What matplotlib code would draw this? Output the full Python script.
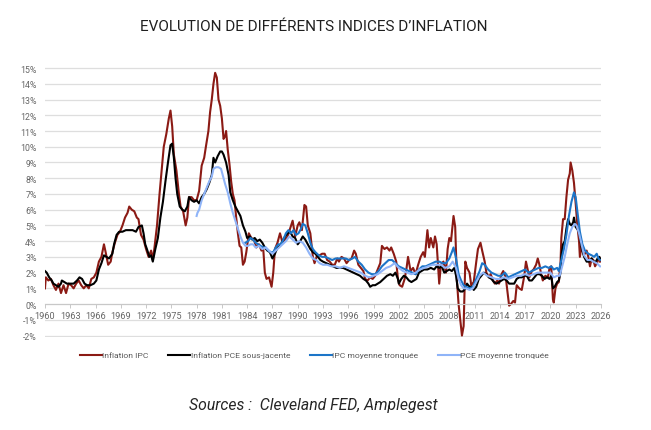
import matplotlib
matplotlib.use("Agg")
import matplotlib.pyplot as plt

# Evolution de differents indices d'inflation (glissement annuel, %)

plt.rcParams['font.family'] = ['Roboto', 'DejaVu Sans']

# Inflation IPC
ipc_annees = [1960.0, 1960.1, 1960.4, 1960.7, 1961.0, 1961.3, 1961.6, 1961.9, 1962.2, 1962.5, 1962.8,
              1963.1, 1963.4, 1963.7, 1964.0, 1964.3, 1964.6, 1964.9, 1965.2, 1965.5, 1965.8, 1966.1,
              1966.4, 1966.7, 1967.0, 1967.2, 1967.5, 1967.8, 1968.0, 1968.3, 1968.6, 1968.9, 1969.2,
              1969.5, 1969.8, 1970.0, 1970.3, 1970.6, 1970.9, 1971.1, 1971.4, 1971.7, 1972.0, 1972.3,
              1972.6, 1972.8, 1973.0, 1973.3, 1973.6, 1973.9, 1974.1, 1974.4, 1974.7, 1974.9, 1975.1,
              1975.3, 1975.6, 1975.9, 1976.1, 1976.4, 1976.7, 1976.9, 1977.1, 1977.4, 1977.7, 1978.0,
              1978.3, 1978.6, 1978.9, 1979.1, 1979.4, 1979.6, 1979.8, 1980.0, 1980.2, 1980.4, 1980.6,
              1980.8, 1981.0, 1981.2, 1981.4, 1981.5, 1981.7, 1981.9, 1982.1, 1982.3, 1982.5, 1982.7,
              1982.9, 1983.1, 1983.3, 1983.5, 1983.7, 1983.9, 1984.2, 1984.5, 1984.8, 1985.1, 1985.4,
              1985.7, 1985.9, 1986.1, 1986.3, 1986.6, 1986.9, 1987.1, 1987.3, 1987.6, 1987.9, 1988.2,
              1988.5, 1988.8, 1989.1, 1989.4, 1989.7, 1990.0, 1990.2, 1990.5, 1990.8, 1991.0, 1991.2,
              1991.5, 1991.8, 1992.0, 1992.3, 1992.6, 1992.9, 1993.2, 1993.5, 1993.8, 1994.1, 1994.4,
              1994.7, 1994.9, 1995.2, 1995.5, 1995.8, 1996.1, 1996.4, 1996.7, 1996.9, 1997.2, 1997.5,
              1997.8, 1998.0, 1998.3, 1998.6, 1998.9, 1999.2, 1999.5, 1999.8, 2000.0, 2000.3, 2000.6,
              2000.9, 2001.1, 2001.4, 2001.7, 2001.9, 2002.1, 2002.4, 2002.7, 2002.9, 2003.1, 2003.4,
              2003.7, 2004.0, 2004.3, 2004.6, 2004.9, 2005.1, 2005.4, 2005.6, 2005.8, 2006.1, 2006.3,
              2006.5, 2006.8, 2007.0, 2007.3, 2007.6, 2007.8, 2008.0, 2008.2, 2008.5, 2008.7, 2008.9,
              2009.1, 2009.3, 2009.5, 2009.7, 2009.9, 2010.1, 2010.4, 2010.6, 2010.9, 2011.2, 2011.4,
              2011.7, 2011.9, 2012.2, 2012.4, 2012.7, 2012.9, 2013.2, 2013.4, 2013.7, 2013.9, 2014.2,
              2014.4, 2014.7, 2014.9, 2015.1, 2015.3, 2015.6, 2015.8, 2016.0, 2016.3, 2016.6, 2016.9,
              2017.1, 2017.3, 2017.5, 2017.8, 2018.0, 2018.3, 2018.5, 2018.7, 2018.9, 2019.1, 2019.4,
              2019.7, 2019.9, 2020.1, 2020.3, 2020.4, 2020.6, 2020.8, 2021.0, 2021.2, 2021.3, 2021.5,
              2021.7, 2021.9, 2022.1, 2022.3, 2022.4, 2022.6, 2022.8, 2023.0, 2023.2, 2023.4, 2023.5,
              2023.7, 2023.9, 2024.1, 2024.3, 2024.5, 2024.7, 2024.9, 2025.1, 2025.3, 2025.6, 2025.8,
              2025.9]
ipc_valeurs = [1.0, 1.7, 1.5, 1.6, 1.2, 0.9, 1.3, 0.7, 1.2, 0.7, 1.3,
               1.2, 1.0, 1.3, 1.5, 1.2, 1.0, 1.2, 1.0, 1.6, 1.7, 2.0,
               2.7, 3.0, 3.8, 3.3, 2.5, 2.7, 3.3, 3.9, 4.4, 4.6, 5.0,
               5.5, 5.8, 6.2, 6.0, 5.9, 5.5, 5.4, 4.4, 4.1, 3.5, 3.0,
               3.4, 2.8, 3.6, 5.0, 7.0, 8.8, 10.0, 10.8, 11.8, 12.3, 11.3,
               9.5, 8.5, 7.0, 6.2, 5.9, 5.0, 5.5, 6.8, 6.8, 6.6, 6.6,
               7.2, 8.8, 9.3, 10.0, 11.0, 12.2, 13.0, 14.0, 14.7, 14.4, 13.0,
               12.6, 11.8, 10.5, 10.7, 11.0, 9.8, 8.9, 7.8, 7.0, 6.6, 5.5,
               4.5, 3.7, 3.6, 2.5, 2.7, 3.3, 4.5, 4.2, 4.1, 3.6, 3.8,
               3.4, 3.6, 2.0, 1.6, 1.7, 1.1, 2.0, 3.5, 3.9, 4.5, 3.9,
               4.1, 4.3, 4.8, 5.3, 4.3, 5.0, 5.2, 4.7, 6.3, 6.2, 5.0,
               4.5, 3.0, 2.6, 3.1, 3.1, 3.2, 3.2, 2.8, 2.7, 2.5, 2.5,
               2.9, 2.7, 3.0, 2.9, 2.6, 2.8, 2.9, 3.4, 3.2, 2.5, 2.3,
               2.1, 1.6, 1.5, 1.7, 1.6, 1.8, 2.2, 2.6, 3.7, 3.5, 3.6,
               3.4, 3.6, 3.2, 2.7, 1.6, 1.2, 1.1, 1.6, 2.2, 3.0, 2.1,
               2.3, 1.9, 2.5, 3.0, 3.3, 3.0, 4.7, 3.6, 4.2, 3.6, 4.3,
               3.8, 1.3, 2.5, 2.7, 2.0, 3.5, 4.2, 4.0, 5.6, 4.9, 1.5,
               0.0, -1.0, -2.0, -1.4, 2.7, 2.3, 2.0, 1.2, 1.4, 2.7, 3.5,
               3.9, 3.4, 2.7, 2.0, 1.7, 1.9, 1.5, 1.3, 1.5, 1.3, 1.9,
               2.1, 1.7, 0.8, -0.1, 0.0, 0.2, 0.1, 1.2, 1.0, 0.9, 1.8,
               2.7, 2.2, 1.7, 2.1, 2.2, 2.5, 2.9, 2.5, 1.9, 1.5, 1.8,
               1.7, 2.3, 2.4, 0.3, 0.1, 1.0, 1.3, 1.4, 2.6, 4.2, 5.4,
               5.4, 6.8, 7.9, 8.3, 9.0, 8.5, 7.7, 6.4, 5.0, 4.0, 3.0,
               3.7, 3.2, 3.2, 3.4, 3.0, 2.4, 2.9, 2.8, 2.4, 2.7, 3.0,
               2.7]

# Inflation PCE sous-jacente
pce_annees = [1960.0, 1960.2, 1960.5, 1960.8, 1961.0, 1961.3, 1961.6, 1961.9, 1962.0, 1962.3, 1962.6,
              1963.0, 1963.4, 1963.8, 1964.1, 1964.4, 1964.7, 1965.0, 1965.4, 1965.8, 1966.1, 1966.4,
              1966.7, 1967.0, 1967.3, 1967.6, 1968.0, 1968.2, 1968.5, 1968.8, 1969.2, 1969.6, 1970.0,
              1970.4, 1970.8, 1971.1, 1971.5, 1971.7, 1971.9, 1972.1, 1972.4, 1972.6, 1972.8, 1973.1,
              1973.4, 1973.7, 1974.0, 1974.3, 1974.6, 1974.9, 1975.1, 1975.3, 1975.5, 1975.7, 1976.0,
              1976.3, 1976.6, 1976.9, 1977.1, 1977.4, 1977.7, 1978.0, 1978.3, 1978.6, 1978.9, 1979.2,
              1979.5, 1979.8, 1980.0, 1980.2, 1980.5, 1980.8, 1981.0, 1981.2, 1981.5, 1981.8, 1982.0,
              1982.3, 1982.6, 1982.9, 1983.2, 1983.5, 1983.8, 1984.0, 1984.3, 1984.6, 1984.9, 1985.2,
              1985.5, 1985.8, 1986.1, 1986.4, 1986.7, 1987.0, 1987.3, 1987.6, 1987.9, 1988.2, 1988.5,
              1988.8, 1989.1, 1989.4, 1989.7, 1990.0, 1990.3, 1990.6, 1990.9, 1991.2, 1991.5, 1991.8,
              1992.1, 1992.4, 1992.7, 1993.0, 1993.4, 1993.8, 1994.2, 1994.6, 1995.0, 1995.4, 1995.8,
              1996.2, 1996.6, 1997.0, 1997.4, 1997.8, 1998.1, 1998.4, 1998.6, 1998.9, 1999.2, 1999.5,
              1999.8, 2000.2, 2000.6, 2001.0, 2001.3, 2001.6, 2001.9, 2002.0, 2002.3, 2002.6, 2002.9,
              2003.2, 2003.5, 2003.8, 2004.1, 2004.4, 2004.7, 2005.0, 2005.4, 2005.8, 2006.2, 2006.5,
              2006.8, 2007.1, 2007.4, 2007.7, 2008.0, 2008.3, 2008.6, 2008.8, 2009.0, 2009.3, 2009.6,
              2009.9, 2010.1, 2010.4, 2010.7, 2010.9, 2011.2, 2011.5, 2011.8, 2012.1, 2012.4, 2012.7,
              2013.0, 2013.3, 2013.6, 2013.9, 2014.2, 2014.5, 2014.8, 2015.1, 2015.4, 2015.7, 2016.0,
              2016.3, 2016.6, 2016.9, 2017.2, 2017.5, 2017.8, 2018.1, 2018.4, 2018.7, 2019.0, 2019.3,
              2019.6, 2019.9, 2020.1, 2020.3, 2020.5, 2020.8, 2021.0, 2021.2, 2021.3, 2021.5, 2021.7,
              2021.9, 2022.1, 2022.3, 2022.5, 2022.7, 2022.8, 2023.0, 2023.3, 2023.5, 2023.7, 2024.0,
              2024.3, 2024.6, 2024.9, 2025.1, 2025.4, 2025.6, 2025.8, 2025.9]
pce_valeurs = [2.1, 2.0, 1.7, 1.5, 1.3, 1.2, 1.1, 1.3, 1.5, 1.4, 1.3,
               1.3, 1.3, 1.5, 1.7, 1.6, 1.3, 1.2, 1.2, 1.3, 1.5, 2.2,
               2.6, 3.1, 3.0, 2.9, 3.2, 3.8, 4.4, 4.6, 4.6, 4.7, 4.7,
               4.7, 4.6, 4.9, 5.0, 4.5, 3.8, 3.5, 3.0, 3.1, 2.7, 3.5,
               4.2, 5.5, 6.5, 7.8, 9.0, 10.1, 10.2, 9.3, 8.0, 7.0, 6.2,
               6.0, 5.9, 6.2, 6.8, 6.6, 6.5, 6.6, 6.4, 6.8, 7.0, 7.3,
               7.7, 8.2, 9.3, 9.0, 9.4, 9.7, 9.7, 9.5, 9.0, 8.2, 7.1,
               6.6, 6.2, 5.9, 5.6, 5.0, 4.6, 4.2, 4.3, 4.1, 4.2, 4.0,
               4.1, 3.9, 3.6, 3.4, 3.3, 2.9, 3.2, 3.6, 3.7, 4.0, 4.3,
               4.5, 4.6, 4.3, 4.2, 3.8, 4.0, 4.3, 4.1, 3.8, 3.5, 3.3,
               3.2, 3.0, 2.8, 2.7, 2.6, 2.5, 2.4, 2.3, 2.3, 2.3, 2.2,
               2.1, 2.0, 1.9, 1.8, 1.6, 1.5, 1.3, 1.1, 1.2, 1.2, 1.3,
               1.4, 1.6, 1.8, 1.9, 1.8, 2.0, 1.6, 1.3, 1.6, 1.8, 1.7,
               1.5, 1.4, 1.5, 1.6, 2.0, 2.1, 2.2, 2.2, 2.3, 2.2, 2.4,
               2.3, 2.4, 2.0, 2.1, 2.2, 2.1, 2.3, 1.8, 1.0, 0.8, 0.8,
               1.0, 1.3, 1.1, 1.1, 0.9, 1.1, 1.6, 1.8, 2.0, 1.9, 1.7,
               1.6, 1.4, 1.3, 1.4, 1.5, 1.6, 1.5, 1.3, 1.3, 1.3, 1.6,
               1.7, 1.7, 1.8, 1.8, 1.5, 1.5, 1.7, 1.9, 1.9, 1.8, 1.6,
               1.7, 1.6, 1.8, 1.0, 1.1, 1.4, 1.5, 2.0, 3.1, 3.8, 4.0,
               4.8, 5.4, 5.1, 5.0, 5.2, 5.5, 4.9, 4.7, 4.3, 3.6, 3.0,
               2.7, 2.7, 2.9, 2.7, 2.7, 2.9, 3.0, 2.9]

# IPC moyenne tronquee
ipc_tronq_annees = [1983.8, 1984.1, 1984.4, 1984.7, 1985.0, 1985.3, 1985.6, 1985.9, 1986.2, 1986.5,
                    1986.8, 1987.1, 1987.4, 1987.7, 1988.0, 1988.3, 1988.6, 1988.9, 1989.2, 1989.5,
                    1989.8, 1990.1, 1990.4, 1990.6, 1990.9, 1991.2, 1991.5, 1991.8, 1992.1, 1992.5,
                    1992.9, 1993.3, 1993.7, 1994.1, 1994.5, 1994.9, 1995.3, 1995.7, 1996.1, 1996.5,
                    1996.8, 1997.2, 1997.6, 1998.0, 1998.4, 1998.8, 1999.2, 1999.6, 2000.0, 2000.4,
                    2000.8, 2001.2, 2001.6, 2002.0, 2002.4, 2002.8, 2003.2, 2003.6, 2004.0, 2004.4,
                    2004.8, 2005.2, 2005.6, 2006.0, 2006.4, 2006.8, 2007.2, 2007.6, 2008.0, 2008.3,
                    2008.5, 2008.8, 2009.1, 2009.4, 2009.7, 2010.0, 2010.4, 2010.8, 2011.2, 2011.6,
                    2011.9, 2012.2, 2012.6, 2013.0, 2013.4, 2013.8, 2014.2, 2014.6, 2015.0, 2015.4,
                    2015.8, 2016.2, 2016.6, 2017.0, 2017.4, 2017.8, 2018.2, 2018.6, 2019.0, 2019.4,
                    2019.8, 2020.1, 2020.4, 2020.8, 2021.0, 2021.3, 2021.6, 2021.9, 2022.2, 2022.5,
                    2022.8, 2023.0, 2023.2, 2023.5, 2023.8, 2024.1, 2024.5, 2024.9, 2025.2, 2025.5,
                    2025.7, 2025.9]
ipc_tronq_valeurs = [3.9, 4.0, 4.2, 4.1, 3.9, 3.8, 3.7, 3.6, 3.6, 3.4,
                     3.3, 3.3, 3.6, 3.8, 3.8, 4.1, 4.5, 4.7, 4.5, 4.7,
                     4.4, 4.5, 4.8, 5.1, 5.0, 4.5, 3.9, 3.5, 3.3, 3.1,
                     3.0, 3.0, 2.9, 2.8, 2.9, 2.9, 2.9, 2.9, 2.8, 2.9,
                     3.0, 2.7, 2.5, 2.2, 2.0, 1.9, 1.9, 2.1, 2.4, 2.6,
                     2.8, 2.8, 2.6, 2.4, 2.3, 2.2, 2.1, 2.0, 1.9, 2.2,
                     2.4, 2.4, 2.5, 2.6, 2.7, 2.7, 2.6, 2.6, 2.9, 3.3,
                     3.6, 2.9, 1.9, 1.5, 1.2, 1.1, 1.0, 1.1, 1.6, 2.1,
                     2.6, 2.5, 2.2, 2.0, 1.9, 1.8, 1.8, 2.0, 1.7, 1.8,
                     1.9, 2.0, 2.1, 2.2, 2.0, 2.1, 2.2, 2.3, 2.3, 2.4,
                     2.3, 2.4, 2.2, 2.3, 2.1, 2.8, 3.5, 4.4, 5.6, 6.5,
                     7.1, 6.8, 5.9, 4.6, 3.8, 3.4, 3.2, 3.1, 3.0, 3.2,
                     2.9, 2.8]

# PCE moyenne tronquee
pce_tronq_annees = [1978.0, 1978.1, 1978.3, 1978.6, 1978.9, 1979.2, 1979.5, 1979.8, 1980.0, 1980.3,
                    1980.6, 1980.9, 1981.1, 1981.4, 1981.7, 1982.0, 1982.3, 1982.6, 1982.9, 1983.2,
                    1983.5, 1983.8, 1984.1, 1984.4, 1984.7, 1985.0, 1985.4, 1985.8, 1986.2, 1986.6,
                    1987.0, 1987.4, 1987.8, 1988.2, 1988.6, 1989.0, 1989.4, 1989.8, 1990.2, 1990.6,
                    1991.0, 1991.4, 1991.8, 1992.2, 1992.6, 1993.0, 1993.5, 1994.0, 1994.5, 1995.0,
                    1995.5, 1996.0, 1996.5, 1997.0, 1997.5, 1998.0, 1998.5, 1999.0, 1999.5, 2000.0,
                    2000.5, 2001.0, 2001.5, 2002.0, 2002.5, 2003.0, 2003.5, 2004.0, 2004.5, 2005.0,
                    2005.5, 2006.0, 2006.5, 2007.0, 2007.5, 2008.0, 2008.4, 2008.8, 2009.1, 2009.4,
                    2009.7, 2010.0, 2010.4, 2010.8, 2011.2, 2011.6, 2012.0, 2012.5, 2013.0, 2013.5,
                    2014.0, 2014.5, 2015.0, 2015.5, 2016.0, 2016.5, 2017.0, 2017.5, 2018.0, 2018.5,
                    2019.0, 2019.5, 2020.0, 2020.4, 2020.8, 2021.1, 2021.4, 2021.7, 2022.0, 2022.3,
                    2022.6, 2022.9, 2023.1, 2023.4, 2023.7, 2024.0, 2024.4, 2024.8, 2025.1, 2025.5,
                    2025.9]
pce_tronq_valeurs = [5.6, 5.8, 6.0, 6.6, 7.0, 7.4, 7.8, 8.1, 8.6, 8.7,
                     8.7, 8.6, 8.2, 7.6, 7.1, 6.4, 5.8, 5.3, 4.8, 4.3,
                     3.9, 3.7, 3.7, 3.8, 3.8, 3.6, 3.7, 3.5, 3.6, 3.4,
                     3.2, 3.4, 3.6, 3.8, 4.0, 4.3, 4.1, 3.9, 4.0, 3.9,
                     3.6, 3.2, 2.9, 2.8, 2.6, 2.5, 2.5, 2.4, 2.4, 2.3,
                     2.4, 2.3, 2.2, 2.1, 2.0, 1.8, 1.7, 1.8, 1.9, 2.1,
                     2.3, 2.4, 2.6, 2.3, 2.1, 2.0, 1.9, 2.0, 2.2, 2.3,
                     2.4, 2.5, 2.5, 2.5, 2.3, 2.4, 2.7, 2.3, 1.6, 1.2,
                     1.0, 1.0, 0.9, 1.0, 1.4, 1.8, 2.0, 1.8, 1.7, 1.6,
                     1.6, 1.7, 1.6, 1.7, 1.8, 1.8, 1.9, 1.8, 1.9, 2.0,
                     2.0, 2.0, 2.0, 1.7, 1.8, 1.8, 2.4, 3.0, 3.8, 4.5,
                     4.9, 5.1, 5.0, 4.5, 3.8, 3.1, 2.8, 2.8, 2.7, 2.6,
                     2.4]

annees_ticks = list(range(1960, 2027, 3))
pourcent_ticks = list(range(-2, 16))

fig = plt.figure(figsize=(6.51, 4.31), dpi=100)
ax = fig.add_axes([0.0691, 0.2155, 0.8540, 0.6278])

ax.plot(ipc_annees, ipc_valeurs, color='#8b1a14', lw=1.5, label='Inflation IPC')
ax.plot(pce_annees, pce_valeurs, color='black', lw=1.5, label='Inflation PCE sous-jacente')
ax.plot(ipc_tronq_annees, ipc_tronq_valeurs, color='#1c75c8', lw=1.5, label='IPC moyenne tronquée')
ax.plot(pce_tronq_annees, pce_tronq_valeurs, color='#8fb4f8', lw=1.5, label='PCE moyenne tronquée')

ax.set_xlim(1960, 2026)
ax.set_ylim(-2.1, 15.1)

# grille horizontale seulement
for v in pourcent_ticks:
    ax.axhline(v, color='#dedede', lw=0.9, zorder=0)
ax.set_yticks(pourcent_ticks)
ax.set_yticklabels([f'{v}%' for v in pourcent_ticks])
ax.set_xticks(annees_ticks)
ax.set_xticklabels([str(a) for a in annees_ticks])

for s in ['top', 'right', 'left']:
    ax.spines[s].set_visible(False)
ax.spines['bottom'].set_position(('data', 0))
ax.spines['bottom'].set_color('#c8c8c8')

ax.tick_params(axis='y', length=0, pad=6, labelsize=6.3, labelcolor='#666666')
ax.tick_params(axis='x', length=3, width=0.7, color='#c8c8c8', pad=2, labelsize=6.6, labelcolor='#666666')

fig.text(0.4816, 0.9367, 'EVOLUTION DE DIFFÉRENTS INDICES D’INFLATION', ha='center', va='center',
         fontsize=11, color='#1f1f1f')

fig.legend(loc='center', bbox_to_anchor=(0.483, 0.174), ncol=4, frameon=False, fontsize=6.1,
           handlelength=2.6, handletextpad=0.05, columnspacing=2.3, labelcolor='#595959')

fig.text(0.481, 0.06, 'Sources :  Cleveland FED, Amplegest', ha='center', va='center',
         fontsize=11.3, style='italic', color='#262626')

fig.savefig('out.png', dpi=100)
